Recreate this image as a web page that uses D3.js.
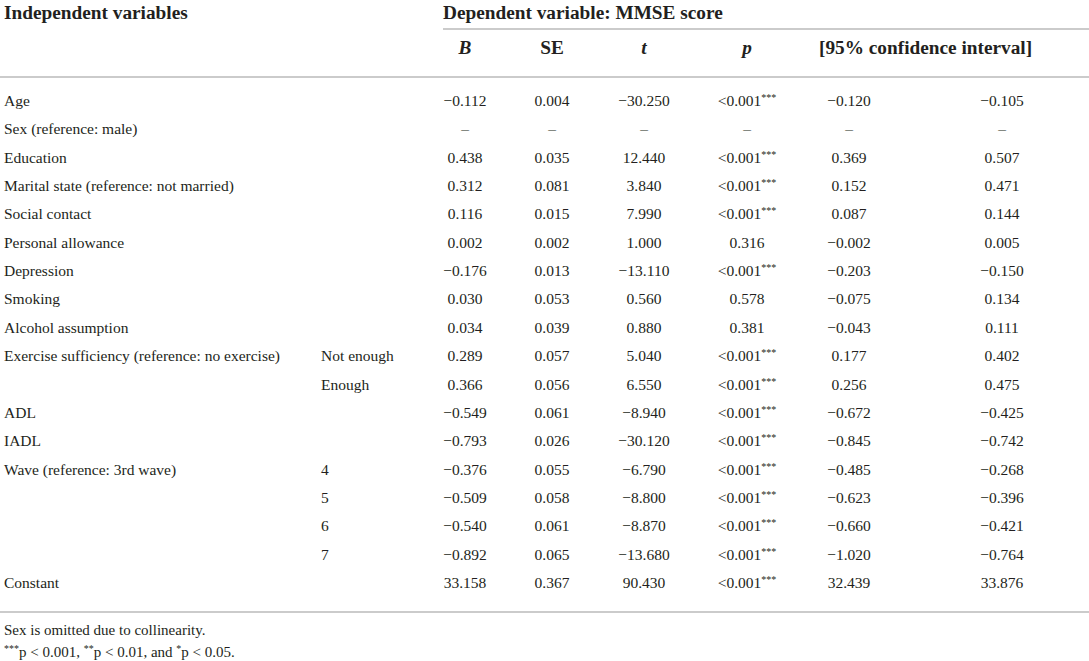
<!DOCTYPE html>
<html>
<head>
<meta charset="utf-8">
<script src="https://cdn.jsdelivr.net/npm/d3@7"></script>
<style>
  body { margin: 0; background: #fff; }
  text { font-family: "Liberation Serif", "DejaVu Serif", serif; fill: #231f20; }
  .head { font-size: 19.3px; font-weight: bold; }
  .cell { font-size: 15.5px; }
  .note { font-size: 15px; }
</style>
</head>
<body>
<div id="table"></div>
<script>
var svgWidth = 1089;
var svgHeight = 661;

// table content
var rowLabels = ["Age", "Sex (reference: male)", "Education", "Marital state (reference: not married)",
  "Social contact", "Personal allowance", "Depression", "Smoking", "Alcohol assumption",
  "Exercise sufficiency (reference: no exercise)", "", "ADL", "IADL", "Wave (reference: 3rd wave)",
  "", "", "", "Constant"];
var subLabels = ["", "", "", "", "", "", "", "", "", "Not enough", "Enough", "", "", "4", "5", "6", "7", ""];
var bValues = [-0.112, null, 0.438, 0.312, 0.116, 0.002, -0.176, 0.030, 0.034, 0.289, 0.366, -0.549, -0.793, -0.376, -0.509, -0.540, -0.892, 33.158];
var seValues = [0.004, null, 0.035, 0.081, 0.015, 0.002, 0.013, 0.053, 0.039, 0.057, 0.056, 0.061, 0.026, 0.055, 0.058, 0.061, 0.065, 0.367];
var tValues = [-30.250, null, 12.440, 3.840, 7.990, 1.000, -13.110, 0.560, 0.880, 5.040, 6.550, -8.940, -30.120, -6.790, -8.800, -8.870, -13.680, 90.430];
var pValues = ["<0.001", null, "<0.001", "<0.001", "<0.001", "0.316", "<0.001", "0.578", "0.381", "<0.001", "<0.001", "<0.001", "<0.001", "<0.001", "<0.001", "<0.001", "<0.001", "<0.001"];
var ciLow = [-0.120, null, 0.369, 0.152, 0.087, -0.002, -0.203, -0.075, -0.043, 0.177, 0.256, -0.672, -0.845, -0.485, -0.623, -0.660, -1.020, 32.439];
var ciHigh = [-0.105, null, 0.507, 0.471, 0.144, 0.005, -0.150, 0.134, 0.111, 0.402, 0.475, -0.425, -0.742, -0.268, -0.396, -0.421, -0.764, 33.876];
var columnKeys = ["b", "se", "t", "p", "lo", "hi"];
var footnotes = ["Sex is omitted due to collinearity."];

var fmt = d3.format(".3f");

var svg = d3.select("#table")
  .append("svg")
  .attr("width", svgWidth)
  .attr("height", svgHeight);

svg.append("rect").attr("width", svgWidth).attr("height", svgHeight).attr("fill", "#fff");

var yRow = d3.scalePoint()
  .domain(d3.range(rowLabels.length))
  .range([101, 583]);

var xCol = d3.scaleOrdinal()
  .domain(columnKeys)
  .range([465, 552, 644, 747, 849, 1002]);

// rules
var rules = [
  {x1: 443, x2: svgWidth, y: 29},
  {x1: 0, x2: svgWidth, y: 77},
  {x1: 0, x2: svgWidth, y: 612}
];
svg.selectAll("line.rule")
  .data(rules)
  .enter()
  .append("line")
  .attr("x1", d => d.x1)
  .attr("x2", d => d.x2)
  .attr("y1", d => d.y)
  .attr("y2", d => d.y)
  .attr("stroke", "#cbcbcb")
  .attr("stroke-width", 2);

// headers
svg.append("text").attr("class", "head").attr("x", 4).attr("y", 19).text("Independent variables");
svg.append("text").attr("class", "head").attr("x", 443).attr("y", 19).text("Dependent variable: MMSE score");

var headers = [
  {key: "b", text: "B", italic: true},
  {key: "se", text: "SE", italic: false},
  {key: "t", text: "t", italic: true},
  {key: "p", text: "p", italic: true}
];
svg.selectAll("text.colhead")
  .data(headers)
  .enter()
  .append("text")
  .attr("class", "head colhead")
  .attr("x", d => xCol(d.key))
  .attr("y", 54)
  .attr("text-anchor", "middle")
  .style("font-style", d => d.italic ? "italic" : "normal")
  .text(d => d.text);
svg.append("text").attr("class", "head").attr("x", 819).attr("y", 54).text("[95% confidence interval]");

// body rows
var rows = svg.selectAll("g.row")
  .data(rowLabels.map((label, i) => ({
    i: i, label: label, sub: subLabels[i],
    b: bValues[i], se: seValues[i], t: tValues[i], p: pValues[i], lo: ciLow[i], hi: ciHigh[i]
  })))
  .enter()
  .append("g")
  .attr("class", "row")
  .attr("transform", d => `translate(0, ${yRow(d.i) + 5})`);

rows.append("text").attr("class", "cell").attr("x", 4).text(d => d.label);
rows.append("text").attr("class", "cell").attr("x", 321).text(d => d.sub);

columnKeys.forEach(function(key) {
  var cells = rows.append("text")
    .attr("class", "cell")
    .attr("x", xCol(key))
    .attr("text-anchor", "middle");
  if (key === "p") {
    cells.each(function(d) {
      var el = d3.select(this);
      if (d.p === null) { el.text("\u2013"); return; }
      el.append("tspan").text(d.p);
      if (d.p.charAt(0) === "<") {
        el.append("tspan").attr("dy", -5).style("font-size", "10px").text("***");
      }
    });
  } else {
    cells.text(d => d[key] === null ? "\u2013" : fmt(d[key]));
  }
});

// notes
svg.append("text").attr("class", "note").attr("x", 4).attr("y", 635).text(footnotes[0]);
var sig = svg.append("text").attr("class", "note").attr("x", 4).attr("y", 657);
[["***", "p < 0.001, "], ["**", "p < 0.01, and "], ["*", "p < 0.05."]].forEach(function(part) {
  sig.append("tspan").attr("dy", -5).style("font-size", "10px").text(part[0]);
  sig.append("tspan").attr("dy", 5).text(part[1]);
});
</script>
</body>
</html>
